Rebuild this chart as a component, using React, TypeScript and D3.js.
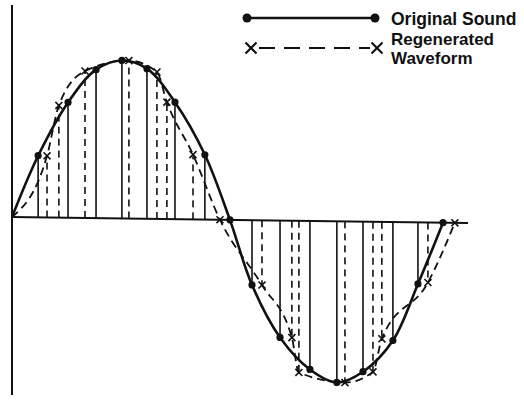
import React from "react";
import * as d3 from "d3";

// Original sound samples (time units, amplitude)
const origT = [0, 0.97, 2.08, 3.12, 4.08, 5.01, 6.05, 7.16, 8.09, 8.91, 9.95, 11.06, 12.06, 13.03, 14.14, 15.07, 16.0];
const origV = [0, 0.39, 0.73, 0.94, 1.0, 0.95, 0.74, 0.41, 0.0, -0.41, -0.74, -0.94, -1.02, -0.95, -0.75, -0.39, 0.0];

// Regenerated waveform samples (jittered times)
const regenT = [0, 1.3, 1.74, 2.71, 4.34, 5.38, 5.75, 6.72, 7.72, 9.28, 10.39, 10.65, 12.36, 13.4, 13.73, 15.44, 16.44];
const regenV = [0, 0.39, 0.71, 0.93, 1.0, 0.93, 0.74, 0.41, 0.0, -0.41, -0.74, -0.96, -1.02, -0.95, -0.74, -0.38, 0.0];

const legendLabels = ["Original Sound", "Regenerated", "Waveform"];

const W = 524;
const H = 402;

export default function App() {
  const x = d3.scaleLinear().domain([0, 16]).range([12, 443]);
  const y = d3.scaleLinear().domain([-1, 1]).range([375, 59]);

  const orig = origT.map((t, i) => [t, origV[i]] as [number, number]);
  const regen = regenT.map((t, i) => [t, regenV[i]] as [number, number]);

  const lineOrig = d3
    .line<[number, number]>()
    .x((d) => x(d[0]))
    .y((d) => y(d[1]))
    .curve(d3.curveCatmullRom.alpha(0.5));

  const lineRegen = d3
    .line<[number, number]>()
    .x((d) => x(d[0]))
    .y((d) => y(d[1]))
    .curve(d3.curveMonotoneX);

  const skew = (Math.atan(6 / 456) * 180) / Math.PI;
  const ink = "#111";
  const font = "'Liberation Sans', Arial, sans-serif";

  const xMark = (cx: number, cy: number, s: number, key: string, sw = 1.6) => (
    <g key={key} stroke={ink} strokeWidth={sw}>
      <line x1={cx - s} y1={cy - s} x2={cx + s} y2={cy + s} />
      <line x1={cx - s} y1={cy + s} x2={cx + s} y2={cy - s} />
    </g>
  );

  return (
    <svg
      width={W}
      height={H}
      style={{ position: "absolute", left: 0, top: 0, background: "#fff" }}
    >
      <rect width={W} height={H} fill="#fff" />
      <g transform={`translate(12,0) skewY(${skew}) translate(-12,0)`}>
        {/* axes */}
        <line x1={12} x2={12} y1={5} y2={395} stroke={ink} strokeWidth={2} />
        <line x1={12} x2={468} y1={y(0)} y2={y(0)} stroke={ink} strokeWidth={2} />

        {/* solid sample lines */}
        {orig
          .filter((d) => Math.abs(d[1]) > 0.05)
          .map((d, i) => (
            <line
              key={"os" + i}
              x1={x(d[0])}
              x2={x(d[0])}
              y1={y(0)}
              y2={y(d[1])}
              stroke={ink}
              strokeWidth={1.6}
            />
          ))}

        {/* dashed sample lines */}
        {regen
          .filter((d) => Math.abs(d[1]) > 0.05)
          .map((d, i) => (
            <line
              key={"rs" + i}
              x1={x(d[0])}
              x2={x(d[0])}
              y1={y(0)}
              y2={y(d[1])}
              stroke={ink}
              strokeWidth={1.6}
              strokeDasharray="7,5"
            />
          ))}

        {/* regenerated curve */}
        <path
          d={lineRegen(regen) || ""}
          fill="none"
          stroke={ink}
          strokeWidth={1.8}
          strokeDasharray="8,5"
        />
        {/* original curve */}
        <path d={lineOrig(orig) || ""} fill="none" stroke={ink} strokeWidth={2.6} />

        {orig.slice(1).map((d, i) => (
          <circle key={"od" + i} cx={x(d[0])} cy={y(d[1])} r={3.6} fill={ink} />
        ))}
        {regen.slice(1).map((d, i) => xMark(x(d[0]), y(d[1]), 3.5, "rx" + i))}
      </g>

      {/* legend */}
      <g>
        <line x1={247} x2={375} y1={18} y2={18} stroke={ink} strokeWidth={2.4} />
        <circle cx={247} cy={18} r={4.5} fill={ink} />
        <circle cx={375} cy={18} r={4.5} fill={ink} />
        <text x={391} y={25} fontFamily={font} fontWeight="bold" fontSize={17.5} fill={ink}>
          {legendLabels[0]}
        </text>

        <line x1={259} x2={370} y1={48} y2={48} stroke={ink} strokeWidth={2.2} strokeDasharray="16,9" />
        {xMark(251, 48, 5.5, "lx1", 2.2)}
        {xMark(377, 48, 5.5, "lx2", 2.2)}
        <text x={391} y={45} fontFamily={font} fontWeight="bold" fontSize={17} fill={ink}>
          {legendLabels[1]}
        </text>
        <text x={391} y={64} fontFamily={font} fontWeight="bold" fontSize={17} fill={ink}>
          {legendLabels[2]}
        </text>
      </g>
    </svg>
  );
}
